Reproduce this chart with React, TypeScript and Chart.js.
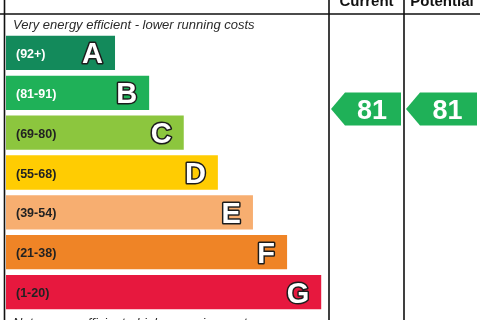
import React, { useEffect, useRef } from 'react';
import { Chart, registerables } from 'chart.js';

Chart.register(...registerables);

// ---- data ----
const bandLetters = ['A', 'B', 'C', 'D', 'E', 'F', 'G'];
const bandRanges = ['(92+)', '(81-91)', '(69-80)', '(55-68)', '(39-54)', '(21-38)', '(1-20)'];
const bandMin = [92, 81, 69, 55, 39, 21, 1];
const bandMax = [100, 91, 80, 68, 54, 38, 20];
const bandLengths = [23.0, 30.2, 37.5, 44.7, 52.1, 59.3, 66.5];
const bandColors = ['#138a5b', '#1fb158', '#8cc63e', '#ffcc02', '#f7ae70', '#ef8426', '#e7183e'];
const bandLabelColors = ['#ffffff', '#ffffff', '#222222', '#222222', '#222222', '#222222', '#222222'];
const columnHeaders = ['Current', 'Potential'];
const ratings = [81, 81];
const topNote = 'Very energy efficient - lower running costs';
const bottomNote = 'Not energy efficient - higher running costs';

const FONT = '"Liberation Sans", Arial, Helvetica, sans-serif';

const epcPlugin = {
  id: 'epcFrame',
  beforeDatasetsDraw(chart: any) {
    const ctx = chart.ctx;
    const W = chart.width;
    const H = chart.height;
    const colX = [329, 404, W];
    ctx.save();
    ctx.strokeStyle = '#111111';
    ctx.lineWidth = 1.6;
    ctx.beginPath();
    ctx.moveTo(0, 14); ctx.lineTo(W, 14);
    ctx.moveTo(4.5, 0); ctx.lineTo(4.5, H);
    ctx.moveTo(colX[0], 0); ctx.lineTo(colX[0], H);
    ctx.moveTo(colX[1], 0); ctx.lineTo(colX[1], H);
    ctx.stroke();

    // header texts (partially cut at top)
    ctx.fillStyle = '#111111';
    ctx.font = `bold 15px ${FONT}`;
    ctx.textAlign = 'center';
    ctx.textBaseline = 'alphabetic';
    columnHeaders.forEach((h, i) => {
      ctx.fillText(h, (colX[i] + colX[i + 1]) / 2, 6);
    });

    // notes
    ctx.font = `italic 13px ${FONT}`;
    ctx.fillStyle = '#2a2a2a';
    ctx.textAlign = 'left';
    ctx.fillText(topNote, 13, 28.5);
    ctx.fillText(bottomNote, 13, 327);
    ctx.restore();
  },
  afterDatasetsDraw(chart: any) {
    const ctx = chart.ctx;
    const meta = chart.getDatasetMeta(0);
    const W = chart.width;
    const colX = [329, 404, W];
    ctx.save();
    meta.data.forEach((bar: any, i: number) => {
      const { x, y, base } = bar.getProps(['x', 'y', 'base'], true);
      ctx.textBaseline = 'alphabetic';
      ctx.font = `bold 12.5px ${FONT}`;
      ctx.fillStyle = bandLabelColors[i];
      ctx.textAlign = 'left';
      ctx.fillText(bandRanges[i], base + 10, y + 5);

      ctx.font = `bold 29px ${FONT}`;
      ctx.textAlign = 'right';
      ctx.lineJoin = 'round';
      ctx.lineWidth = 3;
      ctx.strokeStyle = '#1c1c1c';
      ctx.strokeText(bandLetters[i], x - 12, y + 10.5);
      ctx.fillStyle = '#ffffff';
      ctx.fillText(bandLetters[i], x - 12, y + 10.5);
    });

    // rating arrows
    const yScale = chart.scales.y;
    const slot = yScale.getPixelForValue(1) - yScale.getPixelForValue(0);
    ratings.forEach((r, c) => {
      const idx = bandMin.findIndex((m, k) => r >= m && r <= bandMax[k]);
      const bar = meta.data[idx];
      const frac = (bandMax[idx] - r) / (bandMax[idx] - bandMin[idx] + 1) - 0.5;
      const cy = bar.y + frac * slot;
      const left = colX[c] + 2;
      const right = colX[c + 1] - 3;
      const tip = 14;
      const h = 33;
      ctx.fillStyle = bandColors[idx];
      ctx.beginPath();
      ctx.moveTo(left, cy);
      ctx.lineTo(left + tip, cy - h / 2);
      ctx.lineTo(right, cy - h / 2);
      ctx.lineTo(right, cy + h / 2);
      ctx.lineTo(left + tip, cy + h / 2);
      ctx.closePath();
      ctx.fill();
      ctx.fillStyle = '#ffffff';
      ctx.font = `bold 27px ${FONT}`;
      ctx.textAlign = 'center';
      ctx.textBaseline = 'alphabetic';
      ctx.fillText(String(r), (left + tip + right) / 2 - 1, cy + 9.7);
    });
    ctx.restore();
  },
};

export default function App() {
  const ref = useRef<HTMLCanvasElement | null>(null);
  useEffect(() => {
    if (!ref.current) return;
    const chart = new Chart(ref.current, {
      type: 'bar',
      data: {
        labels: bandLetters,
        datasets: [
          {
            data: bandLengths,
            backgroundColor: bandColors,
            borderWidth: 0,
            categoryPercentage: 1,
            barPercentage: 0.86,
          },
        ],
      },
      options: {
        indexAxis: 'y',
        responsive: false,
        animation: false,
        devicePixelRatio: 1,
        layout: { padding: { left: 6, right: 0, top: 33, bottom: 8 } },
        plugins: { legend: { display: false }, tooltip: { enabled: false } },
        scales: {
          x: { type: 'linear', display: false, min: 0, max: 100 },
          y: { type: 'category', display: false, offset: true },
        },
      },
      plugins: [epcPlugin],
    } as any);
    return () => chart.destroy();
  }, []);
  return (
    <div style={{ position: 'fixed', left: 0, top: 0, width: 480, height: 320, background: '#fff' }}>
      <canvas ref={ref} width={480} height={320} style={{ display: 'block' }} />
    </div>
  );
}
